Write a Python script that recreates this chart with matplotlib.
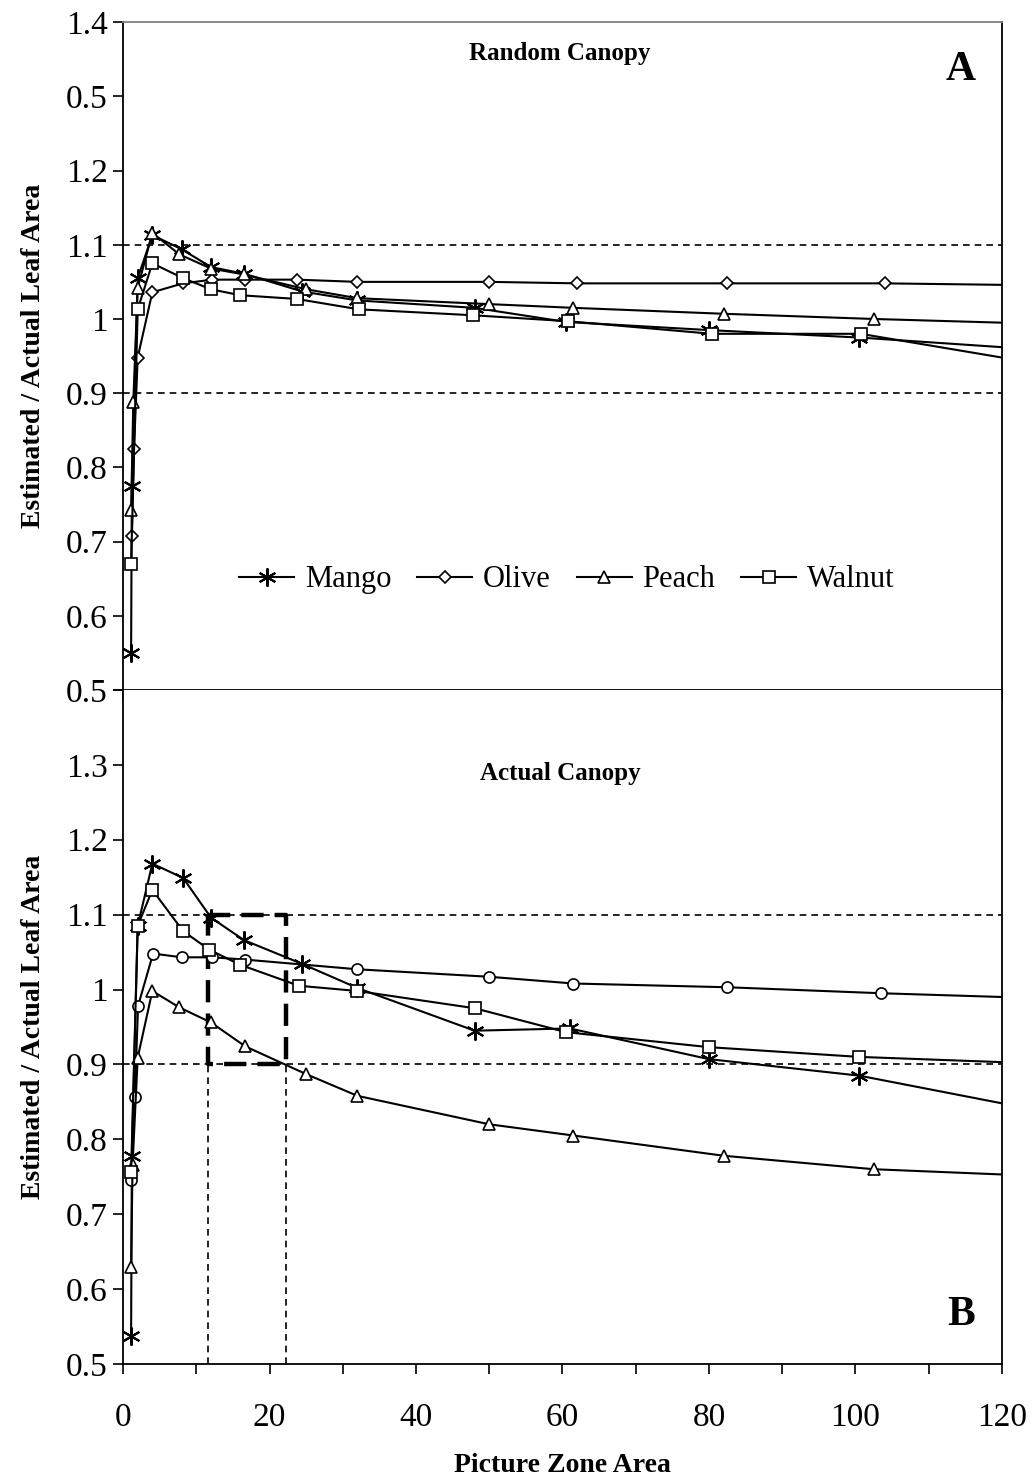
import matplotlib
matplotlib.use("Agg")
import matplotlib.pyplot as plt
import numpy as np

# ----------------------------------------------------------------------
#  Data : estimated / actual leaf area vs picture zone area
# ----------------------------------------------------------------------
species = ["Mango", "Olive", "Peach", "Walnut"]

# random canopy (panel A)
mango_x_a  = [1.1, 1.2, 2, 4, 8, 12, 16.5, 24.5, 32, 48, 60.5, 80, 100.5, 120]
mango_y_a  = [0.55, 0.775, 1.055, 1.113, 1.094, 1.07, 1.061, 1.037, 1.025, 1.015, 0.996, 0.985, 0.975, 0.962]
olive_x_a  = [1.2, 1.5, 2, 4, 8.2, 12.2, 16.6, 23.7, 32, 50, 62, 82.5, 104, 120]
olive_y_a  = [0.707, 0.825, 0.948, 1.036, 1.048, 1.053, 1.053, 1.053, 1.05, 1.05, 1.048, 1.048, 1.048, 1.046]
peach_x_a  = [1.1, 1.4, 2, 4, 7.7, 12, 16.5, 25, 32, 50, 61.5, 82, 102.5, 120]
peach_y_a  = [0.742, 0.888, 1.042, 1.116, 1.087, 1.068, 1.06, 1.04, 1.028, 1.02, 1.015, 1.007, 1.0, 0.995]
walnut_x_a = [1.1, 2, 4, 8.2, 12, 16, 23.7, 32.2, 47.8, 60.7, 80.4, 100.7, 120]
walnut_y_a = [0.67, 1.013, 1.075, 1.055, 1.04, 1.032, 1.027, 1.013, 1.005, 0.997, 0.98, 0.98, 0.948]

# actual canopy (panel B)
mango_x_b  = [1.1, 1.2, 2, 4, 8.2, 12, 16.5, 24.5, 32, 48, 61, 80, 100.5, 120]
mango_y_b  = [0.537, 0.778, 1.085, 1.168, 1.149, 1.096, 1.066, 1.034, 1.002, 0.945, 0.948, 0.907, 0.885, 0.848]
olive_x_b  = [1.1, 1.6, 2.05, 4.1, 8, 12.2, 16.6, 32, 50, 61.5, 82.5, 103.5, 120]
olive_y_b  = [0.745, 0.856, 0.978, 1.048, 1.043, 1.043, 1.04, 1.027, 1.017, 1.008, 1.003, 0.995, 0.99]
peach_x_b  = [1.1, 1.3, 2, 4, 7.7, 12, 16.7, 25, 32, 50, 61.5, 82, 102.5, 120]
peach_y_b  = [0.63, 0.766, 0.909, 0.998, 0.976, 0.956, 0.924, 0.887, 0.858, 0.82, 0.805, 0.778, 0.76, 0.753]
walnut_x_b = [1.1, 2, 4, 8.2, 11.8, 16, 24, 32, 48, 60.5, 80, 100.5, 120]
walnut_y_b = [0.756, 1.085, 1.133, 1.078, 1.053, 1.033, 1.005, 0.998, 0.975, 0.943, 0.923, 0.91, 0.903]

# acceptance band and the zone area range that falls inside it
ratio_band  = [0.9, 1.1]
zone_bounds = [11.6, 22.3]

y_ticks        = [0.5, 0.6, 0.7, 0.8, 0.9, 1.0, 1.1, 1.2, 1.3, 1.4]
y_labels_top   = ["0.5", "0.6", "0.7", "0.8", "0.9", "1", "1.1", "1.2", "0.5", "1.4"]
y_labels_bot   = ["0.5", "0.6", "0.7", "0.8", "0.9", "1", "1.1", "1.2", "1.3", ""]
x_major        = [0, 20, 40, 60, 80, 100, 120]
x_minor        = [10, 30, 50, 70, 90, 110]

# ----------------------------------------------------------------------
#  Style
# ----------------------------------------------------------------------
plt.rcParams['font.family'] = ['Liberation Serif', 'DejaVu Serif']
plt.rcParams['axes.linewidth'] = 1.3

markers = {
	"Mango":  dict(marker=(6, 2, 0), markersize=13, markeredgewidth=1.5),
	"Olive":  dict(marker='D', markersize=6.5, markeredgewidth=1.2),
	"Peach":  dict(marker='^', markersize=9, markeredgewidth=1.2),
	"Walnut": dict(marker='s', markersize=8, markeredgewidth=1.2),
}
markers_b = dict(markers)
markers_b["Olive"] = dict(marker='o', markersize=8, markeredgewidth=1.2)

fig = plt.figure(figsize=(10.34, 14.79), dpi=100)
ax_a = fig.add_axes([0.119, 0.5335, 0.850, 0.4515])
ax_b = fig.add_axes([0.119, 0.0778, 0.850, 0.4557])


def draw_series(axes, data, marker_set):
	for name, (xs, ys) in zip(species, data):
		# last point only carries the line out to the axis edge
		axes.plot(xs, ys, color='k', linewidth=1.5, markerfacecolor='white',
				  markeredgecolor='k', markevery=list(range(len(xs) - 1)),
				  label=name, clip_on=True, zorder=3, **marker_set[name])


def style_axes(axes, y_labels):
	axes.set_xlim(0, 120)
	axes.set_ylim(0.5, 1.4)
	axes.set_yticks(y_ticks)
	axes.set_yticklabels(y_labels)
	axes.set_xticks(x_major)
	axes.set_xticks(x_minor, minor=True)
	axes.tick_params(axis='both', which='both', direction='out', length=7,
					 width=1.2, labelsize=24)
	axes.tick_params(axis='y', pad=4)
	axes.tick_params(axis='x', pad=21)
	for y in ratio_band:
		axes.axhline(y, color='k', linewidth=1.2, linestyle=(0, (4, 3)), zorder=1)
	axes.set_ylabel("Estimated / Actual Leaf Area", fontsize=20, fontweight='bold',
					labelpad=14)


# ------------------------------------------------------------------
#   Panel A - random canopy
# ------------------------------------------------------------------
draw_series(ax_a, [(mango_x_a, mango_y_a), (olive_x_a, olive_y_a),
				   (peach_x_a, peach_y_a), (walnut_x_a, walnut_y_a)], markers)
style_axes(ax_a, y_labels_top)
ax_a.tick_params(axis='x', labelbottom=False)
ax_a.spines['top'].set_color('0.5')
ax_a.text(0.497, 1.358, "Random Canopy", transform=ax_a.get_yaxis_transform(),
		  ha='center', va='center', fontsize=18, fontweight='bold')
ax_a.text(0.953, 1.335, "A", transform=ax_a.get_yaxis_transform(),
		  ha='center', va='center', fontsize=30, fontweight='bold')
ax_a.legend(loc='center', bbox_to_anchor=(0.505, 0.165), ncol=4, frameon=False,
			fontsize=22, handlelength=1.8, handletextpad=0.35, columnspacing=0.85)

# ------------------------------------------------------------------
#   Panel B - actual canopy
# ------------------------------------------------------------------
draw_series(ax_b, [(mango_x_b, mango_y_b), (olive_x_b, olive_y_b),
				   (peach_x_b, peach_y_b), (walnut_x_b, walnut_y_b)], markers_b)
style_axes(ax_b, y_labels_bot)
ax_b.spines['top'].set_visible(False)

# zone area range that keeps the estimate within +/- 10 %
for xz in zone_bounds:
	ax_b.plot([xz, xz], [0.5, ratio_band[0]], color='k', linewidth=1.2,
			  linestyle=(0, (4, 3)), zorder=1)
box_x = [zone_bounds[0], zone_bounds[1], zone_bounds[1], zone_bounds[0], zone_bounds[0]]
box_y = [ratio_band[1], ratio_band[1], ratio_band[0], ratio_band[0], ratio_band[1]]
ax_b.plot(box_x, box_y, color='k', linewidth=3.2, linestyle=(0, (5, 2.5)), zorder=2)

ax_b.text(0.497, 1.288, "Actual Canopy", transform=ax_b.get_yaxis_transform(),
		  ha='center', va='center', fontsize=18, fontweight='bold')
ax_b.text(0.953, 0.566, "B", transform=ax_b.get_yaxis_transform(),
		  ha='center', va='center', fontsize=30, fontweight='bold')
ax_b.set_xlabel("Picture Zone Area", fontsize=20, fontweight='bold', labelpad=14)

fig.savefig("out.png", dpi=100)
